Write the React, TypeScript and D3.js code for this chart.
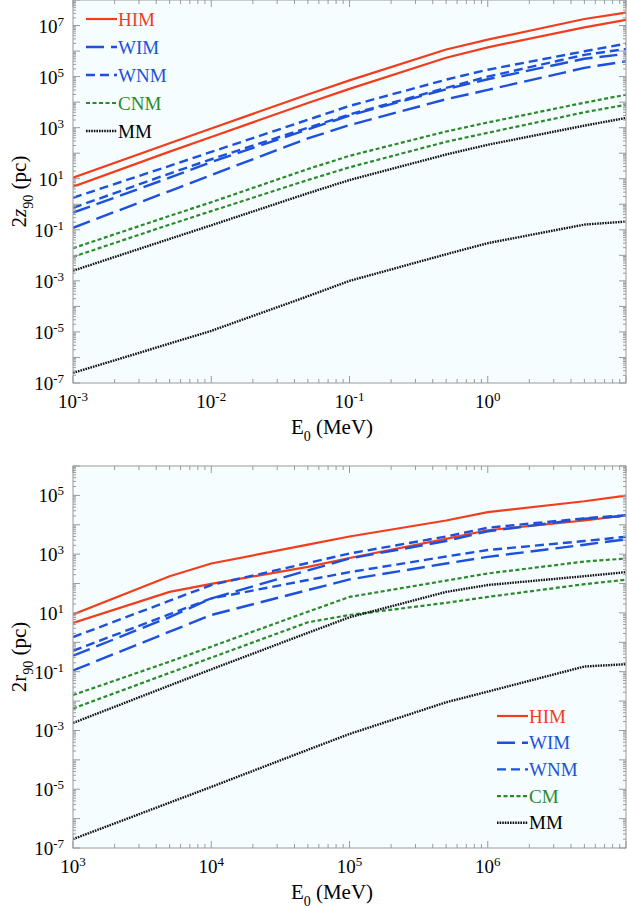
import { useEffect, useRef } from "react";
import * as d3 from "d3";

const W = 627;
const H = 908;

// initial energies (MeV) of the computed points
const zEnergy = [1e-3, 5e-3, 1e-2, 5e-2, 1e-1, 5e-1, 1, 5, 10];
const rEnergy = [1e3, 5e3, 1e4, 5e4, 1e5, 5e5, 1e6, 5e6, 1e7];

// 2z90 (pc) — two curves per phase (upper / lower)
const zHimA = [11, 245, 930, 2.0e4, 7.1e4, 1.15e6, 2.8e6, 1.8e7, 3.2e7];
const zHimB = [4.9, 115, 430, 9300, 3.3e4, 5.5e5, 1.4e6, 8.5e6, 1.66e7];
const zWimA = [0.47, 11, 45, 850, 3000, 3.2e4, 7.9e4, 5.0e5, 7.8e5];
const zWimB = [0.12, 3.3, 14, 380, 1260, 1.3e4, 3.0e4, 2.2e5, 4.0e5];
const zWnmA = [1.8, 32, 112, 2040, 7100, 7.6e4, 1.86e5, 9.8e5, 1.95e6];
const zWnmB = [0.72, 16, 58, 1000, 3300, 3.6e4, 1.0e5, 7.1e5, 1.2e6];
const zCnmA = [0.019, 0.35, 1.2, 24, 79, 710, 1600, 9500, 1.95e4];
const zCnmB = [0.0087, 0.16, 0.54, 8.9, 28, 280, 630, 4000, 7900];
const zMmA = [0.0025, 0.044, 0.15, 2.7, 8.9, 89, 214, 1200, 2400];
const zMmB = [2.5e-7, 3.5e-6, 1.1e-5, 2.5e-4, 1.0e-3, 0.011, 0.03, 0.16, 0.21];

// 2r90 (pc)
const rHimA = [8.9, 178, 480, 2100, 4000, 1.4e4, 2.7e4, 6.3e4, 9.8e4];
const rHimB = [4.6, 52, 98, 370, 740, 3300, 6500, 1.4e4, 2.1e4];
const rWimA = [0.35, 7.2, 31, 280, 710, 2800, 6000, 1.6e4, 2.0e4];
const rWimB = [0.11, 2.3, 8.5, 60, 138, 480, 810, 2100, 3200];
const rWnmA = [1.5, 26, 89, 500, 1050, 4000, 7900, 1.66e4, 2.1e4];
const rWnmB = [0.51, 9.1, 31, 132, 245, 830, 1380, 2800, 3900];
const rCmA = [0.016, 0.22, 0.71, 11, 35, 126, 220, 560, 710];
const rCmB = [0.0056, 0.091, 0.3, 4.8, 8.5, 22, 35, 95, 135];
const rMmA = [0.0018, 0.034, 0.12, 2.1, 7.1, 52, 89, 178, 245];
const rMmB = [2.0e-7, 3.5e-6, 1.2e-5, 2.2e-4, 7.6e-4, 9.1e-3, 0.021, 0.15, 0.18];

const zLegend = ["HIM", "WIM", "WNM", "CNM", "MM"];
const rLegend = ["HIM", "WIM", "WNM", "CM", "MM"];

const FONT = "'Liberation Serif', 'Times New Roman', serif";
const BG = "#f5fdfe";
const AXIS = "#9a9a9a";

const styles = [
  { color: "#f23d1d", dash: null, width: 2.2 },
  { color: "#1d50dc", dash: "18,7", width: 2.4 },
  { color: "#1d50dc", dash: "9,5", width: 2.4 },
  { color: "#2b8a2b", dash: "4,2.5", width: 2.2 },
  { color: "#111111", dash: "1.6,1", width: 2.4 },
];

interface PanelCfg {
  top: number;
  bottom: number;
  xDomain: [number, number];
  yDomain: [number, number];
  energy: number[];
  curves: number[][][];
  legend: string[];
  legendX: number;
  legendY: number;
  legendStep: number;
  yTitle: string;
  italic: boolean;
  id: string;
}

const LEFT = 73;
const RIGHT = 626;

function powerLabel(sel: any, exp: number) {
  sel.append("tspan").text("10");
  sel.append("tspan").attr("dy", -7).attr("font-size", 13).text(String(exp));
}

function drawPanel(svg: d3.Selection<SVGSVGElement, unknown, null, undefined>, cfg: PanelCfg) {
  const x = d3.scaleLog().domain(cfg.xDomain).range([LEFT, RIGHT]);
  const y = d3.scaleLog().domain(cfg.yDomain).range([cfg.bottom, cfg.top]);
  const g = svg.append("g").attr("font-family", FONT);

  g.append("rect")
    .attr("x", LEFT)
    .attr("y", cfg.top)
    .attr("width", RIGHT - LEFT)
    .attr("height", cfg.bottom - cfg.top)
    .attr("fill", BG);

  g.append("clipPath")
    .attr("id", cfg.id)
    .append("rect")
    .attr("x", LEFT)
    .attr("y", cfg.top)
    .attr("width", RIGHT - LEFT)
    .attr("height", cfg.bottom - cfg.top);

  const line = d3
    .line<[number, number]>()
    .x((d) => x(d[0]))
    .y((d) => y(d[1]));

  const plot = g.append("g").attr("clip-path", `url(#${cfg.id})`);
  cfg.curves.forEach((pair, i) => {
    const s = styles[i];
    pair.forEach((vals) => {
      plot
        .append("path")
        .attr("d", line(cfg.energy.map((e, k) => [e, vals[k]] as [number, number])))
        .attr("fill", "none")
        .attr("stroke", s.color)
        .attr("stroke-width", s.width)
        .attr("stroke-dasharray", s.dash);
    });
  });

  // ticks
  const ticks = g.append("g").attr("stroke", AXIS).attr("stroke-width", 1);
  const [x0, x1] = cfg.xDomain.map(Math.log10);
  for (let k = Math.floor(x0); k <= Math.ceil(x1); k++) {
    for (let m = 1; m <= 9; m++) {
      const v = m * Math.pow(10, k);
      if (v < cfg.xDomain[0] * 0.999 || v > cfg.xDomain[1] * 1.001) continue;
      const len = m === 1 ? 7 : 4;
      const px = x(v);
      ticks.append("line").attr("x1", px).attr("x2", px).attr("y1", cfg.bottom).attr("y2", cfg.bottom - len);
      ticks.append("line").attr("x1", px).attr("x2", px).attr("y1", cfg.top).attr("y2", cfg.top + len);
    }
  }
  const [y0, y1] = cfg.yDomain.map(Math.log10);
  for (let k = Math.floor(y0); k <= Math.ceil(y1); k++) {
    for (let m = 1; m <= 9; m++) {
      const v = m * Math.pow(10, k);
      if (v < cfg.yDomain[0] * 0.999 || v > cfg.yDomain[1] * 1.001) continue;
      const len = m === 1 ? 7 : 3;
      const py = y(v);
      ticks.append("line").attr("x1", LEFT).attr("x2", LEFT + len).attr("y1", py).attr("y2", py);
      ticks.append("line").attr("x1", RIGHT).attr("x2", RIGHT - len).attr("y1", py).attr("y2", py);
    }
  }

  g.append("rect")
    .attr("x", LEFT)
    .attr("y", cfg.top)
    .attr("width", RIGHT - LEFT)
    .attr("height", cfg.bottom - cfg.top)
    .attr("fill", "none")
    .attr("stroke", AXIS)
    .attr("stroke-width", 1);

  // tick labels
  for (let k = Math.round(x0); k < Math.round(x1); k++) {
    const t = g
      .append("text")
      .attr("x", x(Math.pow(10, k)))
      .attr("y", cfg.bottom + 25)
      .attr("text-anchor", "middle")
      .attr("font-size", 19)
      .attr("fill", "#000");
    powerLabel(t, k);
  }
  for (let k = Math.round(y0); k < Math.round(y1); k++) {
    if (Math.abs(k) % 2 !== 1) continue;
    const t = g
      .append("text")
      .attr("x", 64)
      .attr("y", y(Math.pow(10, k)) + 7)
      .attr("text-anchor", "end")
      .attr("font-size", 19)
      .attr("fill", "#000");
    powerLabel(t, k);
  }

  // axis titles
  const xt = g
    .append("text")
    .attr("x", 332)
    .attr("y", cfg.bottom + 51)
    .attr("text-anchor", "middle")
    .attr("font-size", 21);
  xt.append("tspan").text("E");
  xt.append("tspan").attr("dy", 7).attr("font-size", 14).text("0");
  xt.append("tspan").attr("dy", -7).text(" (MeV)");

  const cy = (cfg.top + cfg.bottom) / 2;
  const yt = g
    .append("text")
    .attr("transform", `translate(26,${cy}) rotate(-90)`)
    .attr("text-anchor", "middle")
    .attr("font-size", 21);
  yt.append("tspan").text("2");
  yt.append("tspan").attr("font-style", cfg.italic ? "italic" : "normal").text(cfg.yTitle);
  yt.append("tspan").attr("dy", 7).attr("font-size", 14).text("90");
  yt.append("tspan").attr("dy", -7).text(" (pc)");

  // legend
  cfg.legend.forEach((name, i) => {
    const s = styles[i];
    const ly = cfg.legendY + i * cfg.legendStep;
    g.append("line")
      .attr("x1", cfg.legendX)
      .attr("x2", cfg.legendX + 31)
      .attr("y1", ly)
      .attr("y2", ly)
      .attr("stroke", s.color)
      .attr("stroke-width", s.width)
      .attr("stroke-dasharray", s.dash);
    g.append("text")
      .attr("x", cfg.legendX + 32)
      .attr("y", ly + 6.5)
      .attr("font-size", 19)
      .attr("fill", s.color === "#111111" ? "#000" : s.color)
      .text(name);
  });
}

export default function App() {
  const svgRef = useRef<SVGSVGElement>(null);

  useEffect(() => {
    if (!svgRef.current) return;
    const svg = d3.select(svgRef.current);
    svg.selectAll("*").remove();

    drawPanel(svg, {
      id: "clipZ",
      top: 0,
      bottom: 383,
      xDomain: [1e-3, 10],
      yDomain: [1e-7, 1e8],
      energy: zEnergy,
      curves: [
        [zHimA, zHimB],
        [zWimA, zWimB],
        [zWnmA, zWnmB],
        [zCnmA, zCnmB],
        [zMmA, zMmB],
      ],
      legend: zLegend,
      legendX: 86,
      legendY: 19,
      legendStep: 28,
      yTitle: "z",
      italic: true,
    });

    drawPanel(svg, {
      id: "clipR",
      top: 466,
      bottom: 848,
      xDomain: [1e3, 1e7],
      yDomain: [1e-7, 1e6],
      energy: rEnergy,
      curves: [
        [rHimA, rHimB],
        [rWimA, rWimB],
        [rWnmA, rWnmB],
        [rCmA, rCmB],
        [rMmA, rMmB],
      ],
      legend: rLegend,
      legendX: 497,
      legendY: 716,
      legendStep: 26.7,
      yTitle: "r",
      italic: false,
    });
  }, []);

  return (
    <svg
      ref={svgRef}
      width={W}
      height={H}
      style={{ position: "absolute", left: 0, top: 0, background: "#fff" }}
    />
  );
}
